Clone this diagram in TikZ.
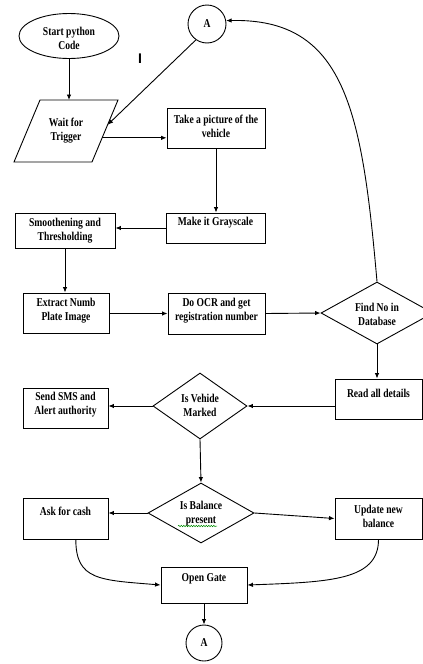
\documentclass[tikz,border=0pt]{standalone}
\usepackage{fontspec}
\setmainfont{Liberation Serif}[FakeStretch=0.8]
\newfontfamily\cursorfont{Liberation Sans}
\usetikzlibrary{shapes.geometric,arrows.meta,calc,decorations.pathmorphing}
\tikzset{
  every node/.style={font=\fontsize{12}{14}\selectfont\bfseries},
  box/.style={draw, rectangle, inner sep=0pt, line width=0.9pt},
  dia/.style={draw, diamond, inner sep=0pt, line width=0.9pt},
  conn/.style={draw, circle, inner sep=0pt, line width=0.9pt},
  txt/.style={inner sep=0pt, align=center},
  outline/.style={line width=0.9pt, line join=miter},
  arr/.style={line width=0.9pt, -{Latex[length=5.5pt,width=4.5pt]}},
}
\begin{document}
\begin{tikzpicture}[x=1pt,y=-1pt]
\useasboundingbox (0,0) rectangle (423,664);
% start ellipse
\node[draw, ellipse, line width=0.9pt, minimum width=100pt, minimum height=45pt, inner sep=0pt] (start) at (69,36) {};
\node[txt] (startT) at (69,38) {Start python\\Code};
% parallelogram
\coordinate (wTL) at (40,100);
\coordinate (wTR) at (118,100);
\coordinate (wBR) at (92,162);
\coordinate (wBL) at (14,162);
\draw[outline] (wTL) -- (wTR) -- (wBR) -- (wBL) -- cycle;
\node[txt] (wait) at (66,131) {Wait for\\Trigger};
% connector circles
\node[conn, minimum size=38pt] (A1) at (207,24) {A};
\node[conn, minimum size=36pt] (A2) at (204,643) {A};
\node[font=\cursorfont\bfseries\fontsize{14}{14}\selectfont] (cur) at (140,59) {I};
% boxes
\node[box, minimum width=98pt, minimum height=40pt] (tp) at (216,128) {};
\node[txt] (tpT) at (216,126) {Take a picture of the\\vehicle};
\node[box, minimum width=99pt, minimum height=30pt] (gray) at (215.5,228) {};
\node[txt] (grayT) at (215.5,223) {Make it Grayscale};
\node[box, minimum width=100pt, minimum height=35pt] (smooth) at (65,230.5) {};
\node[txt] (smoothT) at (65,231) {Smoothening and\\Thresholding};
\node[box, minimum width=86pt, minimum height=40pt] (ext) at (66,313) {};
\node[txt] (extT) at (66,311) {Extract Numb\\Plate Image};
\node[box, minimum width=97pt, minimum height=41pt] (ocr) at (216.5,313.5) {};
\node[txt] (ocrT) at (216.5,311) {Do OCR and get\\registration number};
\node[dia, minimum width=112pt, minimum height=62pt] (find) at (377,313) {};
\node[txt] (findT) at (377,314) {Find No in\\Database};
\node[box, minimum width=87pt, minimum height=40pt] (read) at (378.5,399) {};
\node[txt] (readT) at (378.5,393) {Read all details};
\node[dia, minimum width=94pt, minimum height=66pt] (veh) at (200,406) {};
\node[txt] (vehT) at (200,405) {Is Vehide\\Marked};
\node[box, minimum width=85pt, minimum height=40pt] (sms) at (65.5,408) {};
\node[txt] (smsT) at (65.5,405) {Send SMS and\\Alert authority};
\node[dia, minimum width=106pt, minimum height=60pt] (bal) at (201,513) {};
\node[txt] (balT) at (201,514) {Is Balance\\present};
\node[box, minimum width=85pt, minimum height=41pt] (cash) at (65.5,518.5) {};
\node[txt] (cashT) at (65.5,511.5) {Ask for cash};
\node[box, minimum width=87pt, minimum height=41pt] (upd) at (378.5,518.5) {};
\node[txt] (updT) at (378.5,516) {Update new\\balance};
\node[box, minimum width=86pt, minimum height=36pt] (gate) at (204,585) {};
\node[txt] (gateT) at (204,579) {Open Gate};
% spell-check underline
\draw[green!55!black, line width=0.5pt, decorate, decoration={snake, amplitude=0.7pt, segment length=2.5pt}] (178,526) -- (217,526);
% helper coordinates
\coordinate (wR) at ($(wTR)!0.61!(wBR)$);
\coordinate (wA) at ($(wTR)!0.4!(wBR)$);
\coordinate (cs) at ($(cash.south west)!0.62!(cash.south east)$);
% connectors
\draw[arr] (start.south) -- (start.south |- wTL);
\draw[arr] (A1.235) -- (wA);
\draw[arr] (wR) -- (wR -| tp.west);
\draw[arr] (tp.south) -- (tp.south |- gray.north);
\draw[arr] (gray.west) -- (gray.west -| smooth.east);
\draw[arr] (smooth.south) -- (smooth.south |- ext.north);
\draw[arr] (ext.east |- ocr.west) -- (ocr.west);
\draw[arr] (ocr.east) -- (find.west);
\draw[arr] (find.north) .. controls (362,110) and (345,18) .. (A1.10);
\draw[arr] (find.south) -- (find.south |- read.north);
\draw[arr] (veh.east -| read.west) -- (veh.east);
\draw[arr] (veh.west) -- (veh.west -| sms.east);
\draw[arr] (veh.south) -- (bal.north);
\draw[arr] (bal.west) -- (bal.west -| cash.east);
\draw[arr] (bal.east) -- (upd.west);
\draw[arr] (cs) .. controls ($(cs)+(0,41)$) and (100,580) .. (gate.west);
\draw[arr] (upd.south) .. controls ($(upd.south)+(0,41)$) and (330,582) .. (gate.east);
\draw[arr] (gate.south) -- (A2.north);
\end{tikzpicture}
\end{document}
